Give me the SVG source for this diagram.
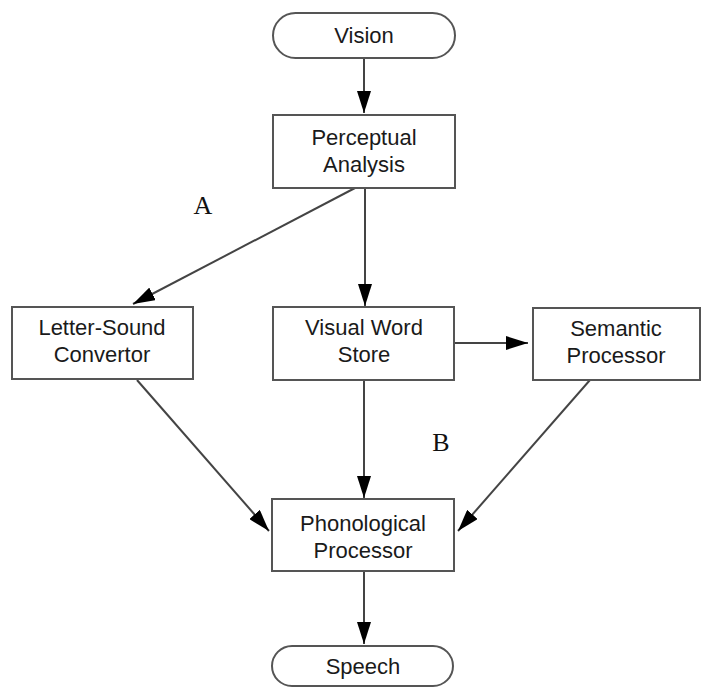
<svg xmlns="http://www.w3.org/2000/svg" width="704" height="689" viewBox="0 0 704 689">
<defs>
<marker id="ah" viewBox="0 0 22 14" refX="22" refY="7" markerWidth="22" markerHeight="14" markerUnits="userSpaceOnUse" orient="auto">
<path d="M0,0 L22,7 L0,14 z" fill="#000"/>
</marker>
<style>
.box{fill:#fff;stroke:#555;stroke-width:2}
.t{font-family:"Liberation Sans",Arial,sans-serif;font-size:22px;fill:#1a1a1a;text-anchor:middle}
.lbl{font-family:"Liberation Serif",serif;font-size:26px;fill:#111;text-anchor:middle}
.c{stroke:#444;stroke-width:2;fill:none;marker-end:url(#ah)}
</style>
</defs>
<rect width="704" height="689" fill="#fff"/>
<g id="connectors">
<line class="c" x1="364" y1="58" x2="364" y2="113"/>
<line class="c" x1="355" y1="188" x2="133" y2="304"/>
<line class="c" x1="365" y1="188" x2="365" y2="306"/>
<line class="c" x1="454" y1="343" x2="528" y2="343"/>
<line class="c" x1="137" y1="380" x2="269" y2="531"/>
<line class="c" x1="364" y1="380" x2="364" y2="498"/>
<line class="c" x1="590" y1="380" x2="458" y2="531"/>
<line class="c" x1="364" y1="571" x2="364" y2="644"/>
</g>
<g id="vision">
<rect class="box" x="273" y="13" width="182" height="45" rx="22.5"/>
<text class="t" x="364" y="43">Vision</text>
</g>
<g id="perceptual">
<rect class="box" x="273" y="115" width="182" height="73"/>
<text class="t" x="364" y="145">Perceptual</text>
<text class="t" x="364" y="172">Analysis</text>
</g>
<g id="letter-sound">
<rect class="box" x="12" y="307" width="181" height="72"/>
<text class="t" x="102" y="335">Letter-Sound</text>
<text class="t" x="102" y="362">Convertor</text>
</g>
<g id="visual-word">
<rect class="box" x="273" y="307" width="181" height="73"/>
<text class="t" x="364" y="335">Visual Word</text>
<text class="t" x="364" y="362">Store</text>
</g>
<g id="semantic">
<rect class="box" x="533" y="308" width="167" height="72"/>
<text class="t" x="616" y="336">Semantic</text>
<text class="t" x="616" y="363">Processor</text>
</g>
<g id="phonological">
<rect class="box" x="272" y="499" width="182" height="72"/>
<text class="t" x="363" y="531">Phonological</text>
<text class="t" x="363" y="558">Processor</text>
</g>
<g id="speech">
<rect class="box" x="272" y="646" width="181" height="40" rx="20"/>
<text class="t" x="363" y="674">Speech</text>
</g>
<text class="lbl" x="203" y="214">A</text>
<text class="lbl" x="441" y="451">B</text>
</svg>
